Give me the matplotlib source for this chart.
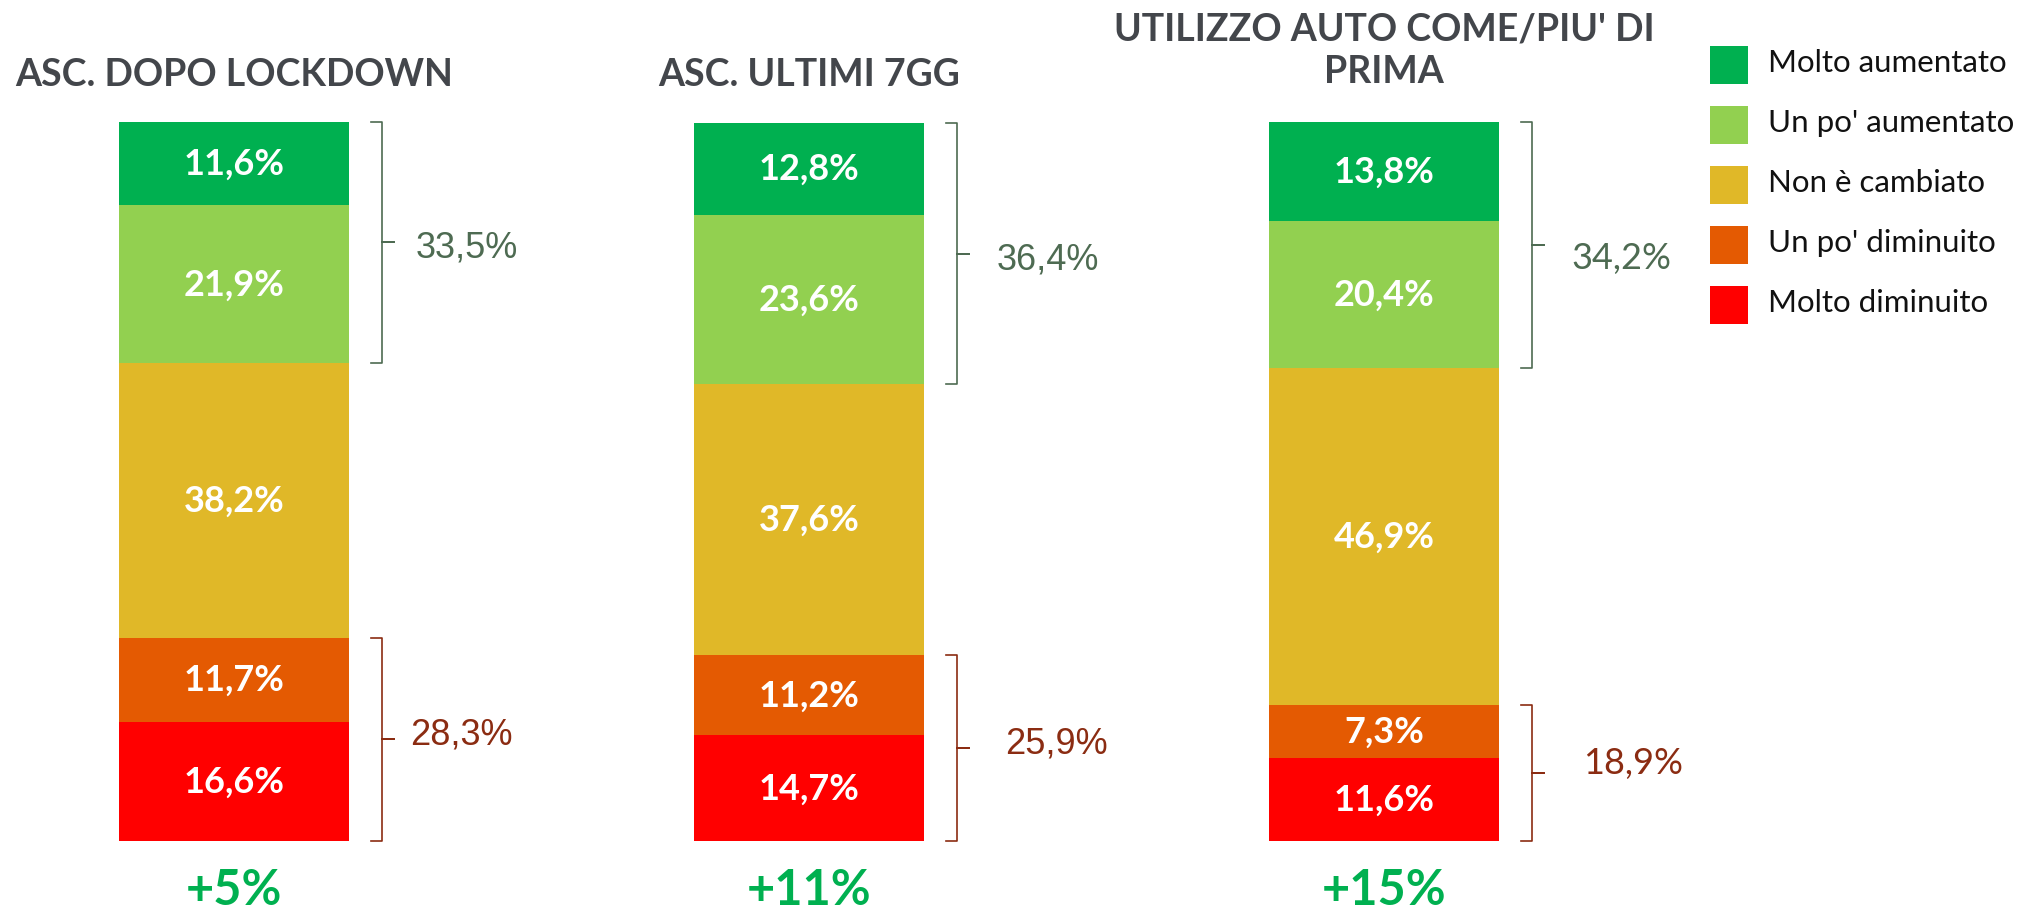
import matplotlib
matplotlib.use('Agg')
import matplotlib.pyplot as plt
from matplotlib.patches import Rectangle
import numpy as np

# ─── Data ─────────────────────────────────────────────────────────────────────
groups = ['ASC. DOPO LOCKDOWN', 'ASC. ULTIMI 7GG', "UTILIZZO AUTO COME/PIU' DI\nPRIMA"]
categories = ['Molto aumentato', "Un po' aumentato", 'Non è cambiato',
              "Un po' diminuito", 'Molto diminuito']

molto_aum = [11.6, 12.8, 13.8]
po_aum    = [21.9, 23.6, 20.4]
non_camb  = [38.2, 37.6, 46.9]
po_dim    = [11.7, 11.2, 7.3]
molto_dim = [16.6, 14.7, 11.6]

tot_aum = [33.5, 36.4, 34.2]
tot_dim = [28.3, 25.9, 18.9]
saldo   = ['+5%', '+11%', '+15%']

COLORS = ['#00B050', '#92D050', '#E0B828', '#E45A02', '#FF0000']
TITLE_C = '#43464B'
UP_C    = '#4E6B52'
DOWN_C  = '#8B2C12'
SALDO_C = '#00B050'

plt.rcParams['font.family'] = ['Lato', 'DejaVu Sans']

def pct(v):
    return f'{v:.1f}%'.replace('.', ',')

# ─── Layout (pixels of a 2024x912 canvas) ─────────────────────────────────────
W, H = 2024, 912
BAR_TOP, BAR_BOT = 123, 842
STEP = 575
FIRST = 234
px_x = 1 / STEP
px_y = 100 / (BAR_BOT - BAR_TOP)
bw = 230 * px_x

# bracket label nudges (px): horizontal gap, vertical shift
up_dx, up_dy = [34, 40, 39], [5, 5, 13]
dn_dx, dn_dy = [28, 48, 51], [-5, -5, -11]
label_fonts = ['Liberation Sans', 'Liberation Sans', 'Lato']

fig = plt.figure(figsize=(W / 100, H / 100), dpi=100)
ax = fig.add_axes([0, (H - BAR_BOT) / H, 1, (BAR_BOT - BAR_TOP) / H])
ax.set_xlim(-FIRST / STEP, (W - FIRST) / STEP)
ax.set_ylim(0, 100)
ax.axis('off')

x = np.arange(len(groups))
stack = [molto_dim, po_dim, non_camb, po_aum, molto_aum]   # bottom -> top
stack_cols = COLORS[::-1]

bottom = np.zeros(len(groups))
for vals, col in zip(stack, stack_cols):
    vals = np.array(vals)
    ax.bar(x, vals, bw, bottom=bottom, color=col, linewidth=0)
    for xi, v, b0 in zip(x, vals, bottom):
        ax.text(xi, b0 + v / 2, pct(v), ha='center', va='center',
                color='white', fontsize=26, fontweight='bold')
    bottom = bottom + vals

# ─── Brackets ─────────────────────────────────────────────────────────────────
def bracket(xb, y0, y1, color):
    hook, tip = 11 * px_x, 12 * px_x
    ym = (y0 + y1) / 2
    ax.plot([xb - hook, xb, xb, xb + tip, xb, xb, xb - hook],
            [y1, y1, ym, ym, ym, y0, y0],
            color=color, linewidth=1.2, solid_joinstyle='round', clip_on=False)
    return ym

for i in range(len(groups)):
    xb = x[i] + bw / 2 + 33 * px_x
    fam = [label_fonts[i], 'DejaVu Sans']
    top = bottom[i]
    ym = bracket(xb, top - tot_aum[i], top, UP_C)
    ax.text(xb + up_dx[i] * px_x, ym - up_dy[i] * px_y, pct(tot_aum[i]),
            ha='left', va='center', color=UP_C, fontsize=26, family=fam)
    ym = bracket(xb, 0, tot_dim[i], DOWN_C)
    ax.text(xb + dn_dx[i] * px_x, ym - dn_dy[i] * px_y, pct(tot_dim[i]),
            ha='left', va='center', color=DOWN_C, fontsize=26, family=fam)

# ─── Titles & balance ─────────────────────────────────────────────────────────
for i, g in enumerate(groups):
    if '\n' in g:
        ax.text(x[i], 100 + (BAR_TOP - 51) * px_y, g, ha='center', va='center',
                multialignment='center', linespacing=1.3,
                color=TITLE_C, fontsize=27, fontweight='bold', clip_on=False)
    else:
        ax.text(x[i], 100 + (BAR_TOP - 86) * px_y, g, ha='center', va='baseline',
                color=TITLE_C, fontsize=27, fontweight='bold', clip_on=False)
    ax.text(x[i], -(905 - BAR_BOT) * px_y, saldo[i], ha='center', va='baseline',
            color=SALDO_C, fontsize=35, fontweight='bold', clip_on=False)

# ─── Legend (drawn by hand, in figure pixels) ─────────────────────────────────
for i, (cat, col) in enumerate(zip(categories, COLORS)):
    y_top = 47 + 60 * i
    fig.patches.append(Rectangle((1710 / W, 1 - (y_top + 38) / H), 38 / W, 38 / H,
                                 transform=fig.transFigure, color=col, linewidth=0))
    fig.text(1768 / W, 1 - (y_top + 25) / H, cat, ha='left', va='baseline',
             color='#111111', fontsize=22.5)

fig.savefig('out.png', dpi=100)
